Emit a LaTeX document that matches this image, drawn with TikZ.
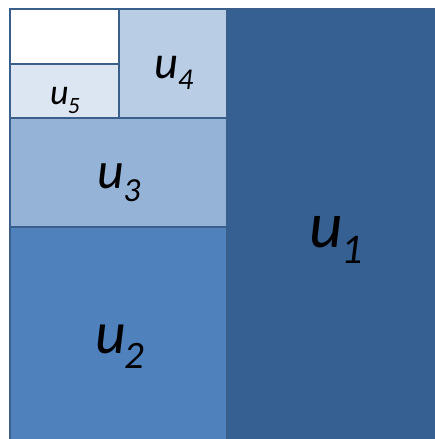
\documentclass[tikz,border=0pt]{standalone}
\usepackage{fontspec}
\setmainfont{Carlito}
\usepackage{xcolor}
\definecolor{cellline}{RGB}{58,95,139}
\definecolor{shadeA}{RGB}{55,96,146}
\definecolor{shadeB}{RGB}{79,129,189}
\definecolor{shadeC}{RGB}{149,179,215}
\definecolor{shadeD}{RGB}{185,205,229}
\definecolor{shadeE}{RGB}{220,230,242}
\definecolor{shadeF}{RGB}{255,255,255}
\newcommand{\ulab}[1]{\textit{u}\kern-0.02em\raisebox{-0.25em}{\scalebox{0.65}{\textit{#1}}}}

\begin{document}
\begin{tikzpicture}[x=0.02cm,y=-0.02cm]
	\useasboundingbox (0,0) rectangle (434,439);
	\foreach 
	\xa/\ya/\xb/\yb/\shade
	in
	{
		227/9/446/446/shadeA,
		10/227/227/446/shadeB,
		10/118/227/227/shadeC,
		119/9/227/118/shadeD,
		10/64/119/118/shadeE,
		10/9/119/64/shadeF}
	{
		\filldraw[fill=\shade, draw=cellline, line width=1.2pt] (\xa,\ya) rectangle (\xb,\yb);
	}
	\node (u1) [font=\fontsize{37}{39}\selectfont] at (336, 240) {\ulab{1}};
	\node (u2) [font=\fontsize{34}{36}\selectfont] at (120, 347) {\ulab{2}};
	\node (u3) [font=\fontsize{29.5}{31}\selectfont] at (119, 183) {\ulab{3}};
	\node (u4) [font=\fontsize{26.5}{28}\selectfont] at (174, 73) {\ulab{4}};
	\node (u5) [font=\fontsize{20.5}{22}\selectfont] at (65, 100) {\ulab{5}};
\end{tikzpicture}
\end{document}
